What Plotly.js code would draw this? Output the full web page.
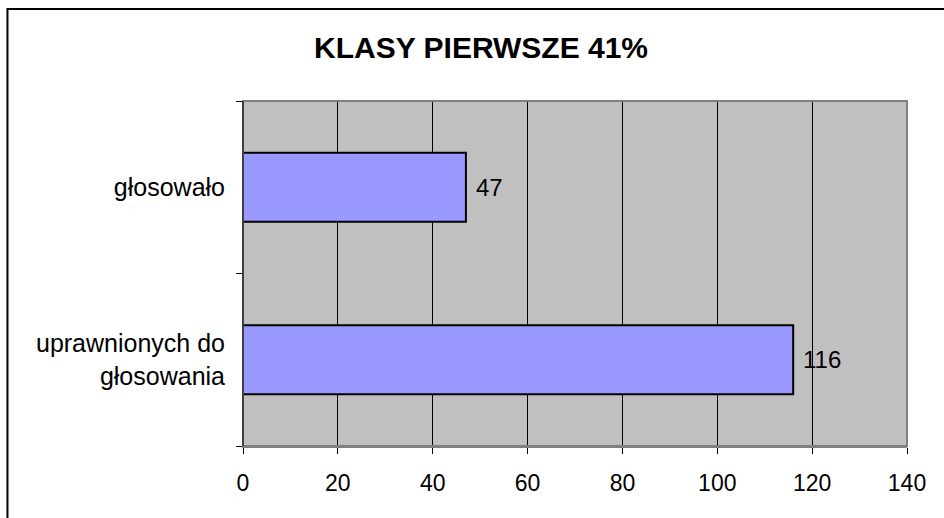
<!DOCTYPE html>
<html>
<head>
<meta charset="utf-8">
<script src="https://cdn.plot.ly/plotly-3.0.1.min.js"></script>
<style>html,body{margin:0;padding:0;background:#fff;}#chart{width:944px;height:518px;}</style>
</head>
<body>
<div id="chart"></div>
<script>
const chartTitle = 'KLASY PIERWSZE 41%';
const categories = ['uprawnionych do<br>głosowania', 'głosowało'];
const values = [116, 47];
const xTickVals = [0, 20, 40, 60, 80, 100, 120, 140];

const font = '"Liberation Sans", Arial, sans-serif';

const trace = {
  type: 'bar',
  orientation: 'h',
  y: categories,
  x: values,
  marker: {color: '#9999FF', line: {color: '#000000', width: 2}},
  hoverinfo: 'skip'
};

const labelAnnotations = values.map((v, i) => ({
  x: v, y: categories[i], xref: 'x', yref: 'y',
  text: String(v), showarrow: false,
  xanchor: 'left', yanchor: 'middle', xshift: 8,
  font: {family: font, size: 24, color: '#000'}
}));

const layout = {
  width: 944,
  height: 518,
  margin: {l: 243, r: 37, t: 101, b: 72},
  paper_bgcolor: '#ffffff',
  plot_bgcolor: '#C0C0C0',
  font: {family: font, size: 24, color: '#000'},
  showlegend: false,
  bargap: 0.6,
  title: {
    text: '<b>' + chartTitle + '</b>',
    font: {family: font, size: 30, color: '#000'},
    x: 0.5096, xref: 'container', xanchor: 'center',
    y: 0.909, yref: 'container', yanchor: 'middle'
  },
  xaxis: {
    range: [0, 140],
    tickvals: xTickVals,
    ticks: 'outside', ticklen: 6, tickcolor: '#000', tickwidth: 1,
    showgrid: true, gridcolor: '#000', gridwidth: 1,
    zeroline: false,
    showline: true, linecolor: '#808080', linewidth: 2,
    ticklabelstandoff: 9,
    tickfont: {family: font, size: 23, color: '#000'},
    fixedrange: true
  },
  yaxis: {
    type: 'category',
    tickson: 'boundaries',
    ticks: 'outside', ticklen: 6, tickcolor: '#000', tickwidth: 1,
    showgrid: false,
    zeroline: false,
    showline: true, linecolor: '#000', linewidth: 1,
    ticklabelstandoff: 12,
    tickfont: {family: font, size: 25, color: '#000'},
    fixedrange: true
  },
  annotations: labelAnnotations,
  shapes: [
    {type: 'rect', xref: 'paper', yref: 'paper', x0: 0, x1: 1, y0: 0, y1: 1,
     line: {color: '#808080', width: 2}, layer: 'above'},
    {type: 'line', xref: 'paper', yref: 'paper', x0: 0, x1: 0, y0: 0, y1: 1,
     line: {color: '#000', width: 1}, layer: 'above'},
    {type: 'rect', xref: 'paper', yref: 'paper', x0: -0.3547, x1: 1.2, y0: -0.4, y1: 1.267,
     line: {color: '#000', width: 2}, layer: 'above'}
  ]
};

Plotly.newPlot('chart', [trace], layout, {displayModeBar: false, staticPlot: true});
</script>
</body>
</html>
